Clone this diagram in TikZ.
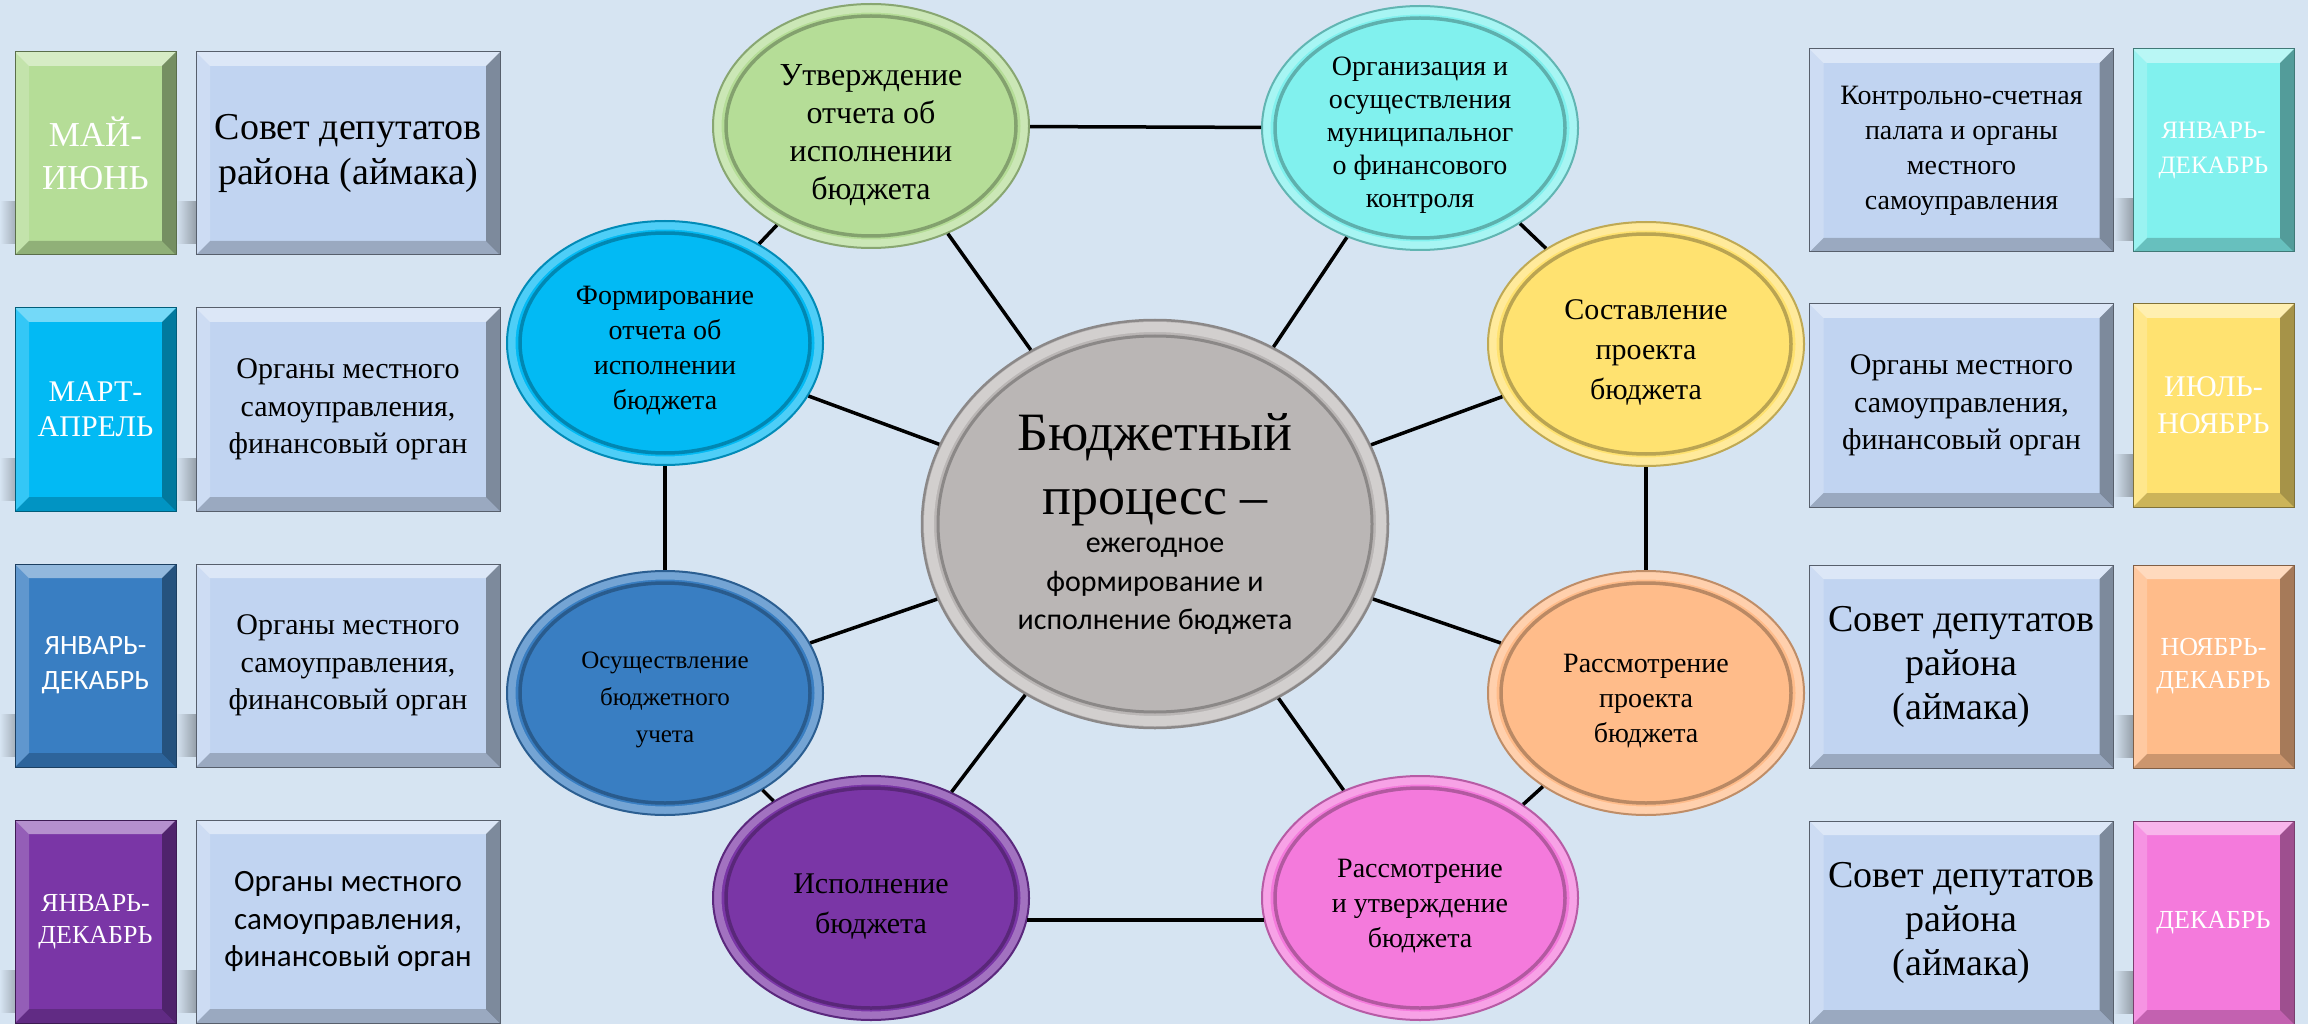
\documentclass[tikz,border=0pt]{standalone}
\usepackage{fontspec}
\setmainfont{Liberation Serif}
\newfontfamily\calfont{Carlito}
\usetikzlibrary{shapes.geometric}

\definecolor{bgc}{RGB}{214,228,242}
\definecolor{boxc}{RGB}{193,212,241}
\definecolor{cgreen}{RGB}{181,221,151}
\definecolor{ccyanblue}{RGB}{2,186,244}
\definecolor{cblue}{RGB}{57,126,194}
\definecolor{cpurple}{RGB}{122,54,166}
\definecolor{ccyan}{RGB}{129,241,238}
\definecolor{cyellow}{RGB}{255,226,112}
\definecolor{corange}{RGB}{255,188,138}
\definecolor{cpink}{RGB}{244,122,220}
\definecolor{cgray}{RGB}{186,182,181}

\newcommand\fs[2]{\fontsize{#1}{#2}\selectfont}
\newcommand\natsp{\spaceskip=\fontdimen2\font\xspaceskip=\fontdimen2\font\relax}
\newcommand\topgap{\rule{0pt}{1.2em}}

\tikzset{
  every node/.append style={execute at begin node={\natsp}},
  bevel/.style={path picture={
    \fill[white,opacity=.45] (path picture bounding box.north west) -- (path picture bounding box.north east)
      -- ([shift={(-14pt,-14pt)}]path picture bounding box.north east) -- ([shift={(14pt,-14pt)}]path picture bounding box.north west) -- cycle;
    \fill[white,opacity=.2] (path picture bounding box.north west) -- ([shift={(14pt,-14pt)}]path picture bounding box.north west)
      -- ([shift={(14pt,14pt)}]path picture bounding box.south west) -- (path picture bounding box.south west) -- cycle;
    \fill[black,opacity=.35] (path picture bounding box.north east) -- (path picture bounding box.south east)
      -- ([shift={(-14pt,14pt)}]path picture bounding box.south east) -- ([shift={(-14pt,-14pt)}]path picture bounding box.north east) -- cycle;
    \fill[black,opacity=.2] (path picture bounding box.south west) -- (path picture bounding box.south east)
      -- ([shift={(-14pt,14pt)}]path picture bounding box.south east) -- ([shift={(14pt,14pt)}]path picture bounding box.south west) -- cycle;
  }},
  orgbox/.style={rectangle, inner sep=0pt, minimum width=304pt, minimum height=203pt, fill=boxc,
    draw=boxc!45!black, line width=1pt, align=center, text width=290pt, bevel},
  monbox/.style={rectangle, inner sep=0pt, minimum width=161pt, minimum height=203pt, fill=#1,
    draw=#1!50!black, line width=1pt, align=center, text width=150pt, text=white, bevel},
  ell/.style={ellipse, inner sep=0pt, minimum width=316pt, minimum height=244pt, fill=#1,
    draw=#1!75!black, line width=2pt, align=center, text width=212pt,
    path picture={
      \draw[line width=9pt, white, opacity=.3] (path picture bounding box.center) ellipse [x radius=154pt, y radius=118pt];
      \draw[line width=3.5pt, #1!55!black, opacity=.6] (path picture bounding box.center) ellipse [x radius=145pt, y radius=110pt];
    }},
  link/.style={line width=3.5pt, black},
  shad/.style={left color=bgc, right color=black!30!bgc}
}

\begin{document}
\begin{tikzpicture}[x=1pt,y=-1pt]
\useasboundingbox (0,0) rectangle (2308,1024);
\fill[bgc] (0,0) rectangle (2308,1024);

% soft shadows at the left of the boxes
\foreach \xl/\yt in {0/52,0/308,0/564,0/820,176/52,176/308,176/564,176/820,2113/49,2113/304,2113/565,2113/821}{
  \shade[shad] (\xl,\yt+150) rectangle (\xl+20,\yt+192);
}

% left boxes
\node[monbox=cgreen, font=\fs{35}{43}] (L1) at (95.5,153.5) {МАЙ-\\ИЮНЬ};
\node[monbox=ccyanblue, font=\fs{30}{35}] (L2) at (95.5,409.5) {МАРТ-\\АПРЕЛЬ};
\node[monbox=cblue, font=\calfont\fs{28}{35}] (L3) at (95.5,665.5) {ЯНВАРЬ-\\ДЕКАБРЬ};
\node[monbox=cpurple, font=\fs{26}{32}] (L4) at (95.5,921.5) {ЯНВАРЬ-\\ДЕКАБРЬ};

\node[orgbox, font=\fs{38}{45}] (A1) at (348,153.5) {Совет депутатов\\района (аймака)};
\node[orgbox, font=\fs{30}{37.5}] (A2) at (348,409.5) {Органы местного\\самоуправления,\\финансовый орган};
\node[orgbox, font=\fs{30}{37.5}] (A3) at (348,665.5) {Органы местного\\самоуправления,\\финансовый орган};
\node[orgbox, font=\calfont\fs{31}{37.5}] (A4) at (348,921.5) {Органы местного\\самоуправления,\\финансовый орган};

% right boxes
\node[orgbox, font=\fs{28}{35}] (B1) at (1961.5,150.5) {Контрольно-счетная\\палата и органы\\местного\\самоуправления};
\node[orgbox, font=\fs{30}{37.5}] (B2) at (1961.5,405.5) {Органы местного\\самоуправления,\\финансовый орган};
\node[orgbox, font=\fs{38}{44}] (B3) at (1961.5,666.5) {Совет депутатов\\района\\(аймака)};
\node[orgbox, font=\fs{38}{44}] (B4) at (1961.5,922.5) {Совет депутатов\\района\\(аймака)};

\node[monbox=ccyan, font=\fs{25}{35}] (R1) at (2213.5,150.5) {ЯНВАРЬ-\\ДЕКАБРЬ};
\node[monbox=cyellow, font=\fs{30}{37}] (R2) at (2213.5,405.5) {ИЮЛЬ-\\НОЯБРЬ};
\node[monbox=corange, font=\fs{26}{33}] (R3) at (2213.5,666.5) {НОЯБРЬ-\\ДЕКАБРЬ};
\node[monbox=cpink, font=\fs{26}{33}] (R4) at (2213.5,922.5) {ДЕКАБРЬ};

% ellipses
\node[ell=cgreen, font=\fs{32}{38}] (G) at (871,126) {\topgap Утверждение\\отчета об\\исполнении\\бюджета};
\node[ell=ccyan, font=\fs{28}{33}] (C) at (1420,128) {\topgap Организация и\\осуществления\\муниципальног\\о финансового\\контроля};
\node[ell=ccyanblue, font=\fs{28}{35}] (F) at (665,343) {\topgap Формирование\\отчета об\\исполнении\\бюджета};
\node[ell=cyellow, font=\fs{30}{40}] (Y) at (1646,344) {\topgap Составление\\проекта\\бюджета};
\node[ell=cblue, font=\fs{25}{37}] (O) at (665,693) {\topgap Осуществление\\бюджетного\\учета};
\node[ell=corange, font=\fs{28}{35}] (P) at (1646,693) {\topgap Рассмотрение\\проекта\\бюджета};
\node[ell=cpurple, font=\fs{30}{40}] (V) at (871,898) {\topgap Исполнение\\бюджета};
\node[ell=cpink, font=\fs{28}{35}] (K) at (1420,898) {\topgap Рассмотрение\\и утверждение\\бюджета};

\node[ellipse, inner sep=0pt, minimum width=466pt, minimum height=408pt, fill=cgray, draw=cgray!75!black,
  line width=2.5pt, align=center, text width=320pt,
  path picture={
    \draw[line width=10pt, white, opacity=.35] (path picture bounding box.center) ellipse [x radius=226pt, y radius=197pt];
    \draw[line width=3pt, cgray!50!black, opacity=.5] (path picture bounding box.center) ellipse [x radius=217pt, y radius=188pt];
  }] (M) at (1155,524)
  {{\fs{54}{64}\natsp Бюджетный\\процесс –\par}{\calfont\fs{30}{38.5}\natsp ежегодное\\формирование и\\исполнение бюджета\par}};

% connectors: ring
\draw[link] (G) -- (C);
\draw[link] (C) -- (Y);
\draw[link] (Y) -- (P);
\draw[link] (P) -- (K);
\draw[link] (V.-8) -- (K.188);
\draw[link] (V) -- (O);
\draw[link] (O) -- (F);
\draw[link] (F) -- (G);
% connectors: hub
\foreach \n in {G,C,F,Y,O,P,V,K}{
  \draw[link] (M) -- (\n);
}
\end{tikzpicture}
\end{document}
